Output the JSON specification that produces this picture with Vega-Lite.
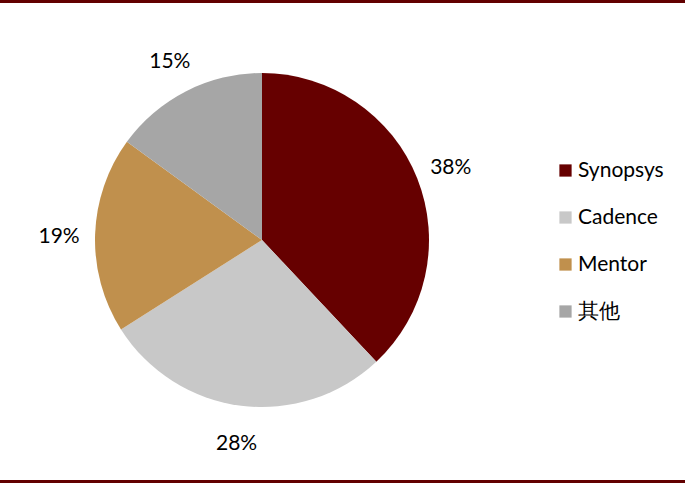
{
  "$schema": "https://vega.github.io/schema/vega-lite/v6.json",
  "width": 524,
  "height": 480,
  "autosize": {"type": "none"},
  "padding": {"left": 0, "top": 0, "right": 161, "bottom": 3},
  "background": "white",
  "config": {"view": {"stroke": null}, "font": "Lato"},
  "data": {
    "values": [
      {"company": "Synopsys", "share": 38, "label": "38%", "rank": 1},
      {"company": "Cadence", "share": 28, "label": "28%", "rank": 2},
      {"company": "Mentor", "share": 19, "label": "19%", "rank": 3},
      {"company": "其他", "share": 15, "label": "15%", "rank": 4}
    ]
  },
  "layer": [
    {
      "mark": {"type": "arc", "outerRadius": 167},
      "encoding": {
        "theta": {"field": "share", "type": "quantitative", "stack": true},
        "order": {"field": "rank", "type": "quantitative"},
        "color": {
          "field": "company",
          "type": "nominal",
          "scale": {
            "domain": ["Synopsys", "Cadence", "Mentor", "其他"],
            "range": ["#660000", "#C8C8C8", "#C0904D", "#A6A6A6"]
          },
          "legend": {
            "title": null,
            "orient": "none",
            "legendX": 555,
            "legendY": 160,
            "symbolType": "square",
            "symbolSize": 150,
            "symbolStrokeWidth": 0,
            "labelFont": "Lato",
            "labelFontSize": 21,
            "labelColor": "#000000",
            "labelOffset": 2,
            "rowPadding": 25,
            "labelLimit": 200
          }
        }
      }
    },
    {
      "mark": {"type": "text", "radius": 203, "dy": 3, "fontSize": 21, "font": "Lato", "color": "#000000"},
      "encoding": {
        "theta": {"field": "share", "type": "quantitative", "stack": true},
        "order": {"field": "rank", "type": "quantitative"},
        "text": {"field": "label", "type": "nominal"}
      }
    },
    {
      "data": {"values": [{"edge": "top", "pos": 1.5}, {"edge": "bottom", "pos": 481.5}]},
      "mark": {"type": "rule", "color": "#620000", "strokeWidth": 3, "clip": false},
      "encoding": {
        "x": {"value": 0},
        "x2": {"value": 685},
        "y": {"field": "pos", "type": "quantitative", "scale": {"domain": [0, 480], "range": [0, 480]}, "axis": null}
      }
    }
  ],
  "resolve": {"scale": {"theta": "shared"}}
}
